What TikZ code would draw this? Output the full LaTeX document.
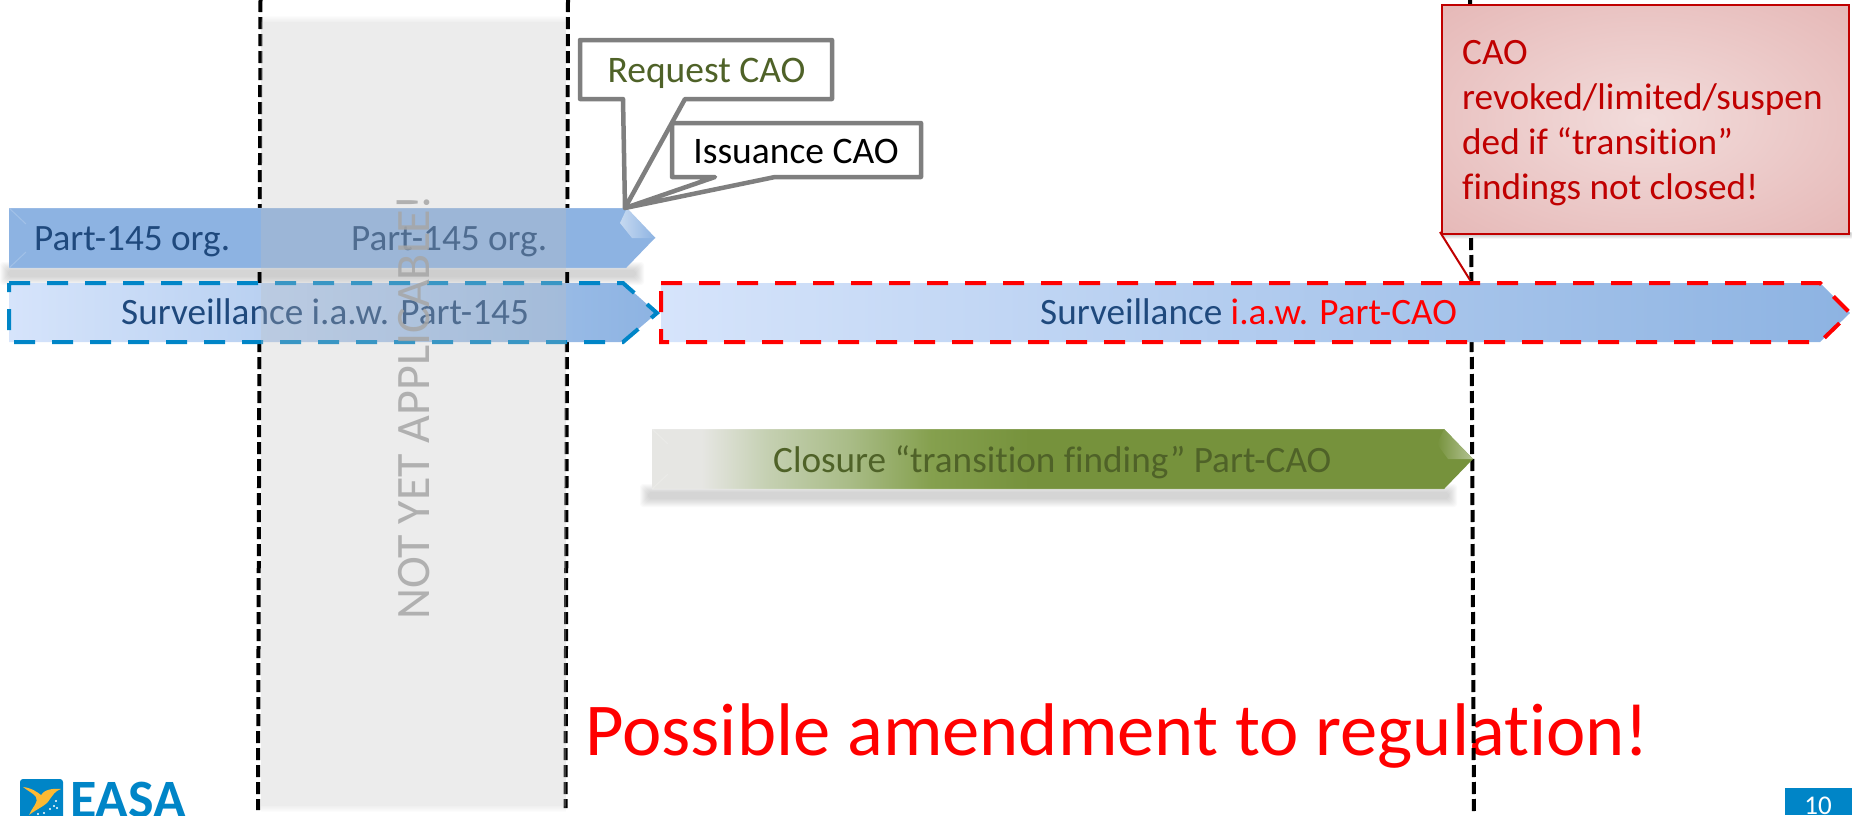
\documentclass[tikz,border=0pt]{standalone}
\usepackage{fontspec}
\setmainfont[Ligatures=NoCommon]{Carlito}
\usetikzlibrary{calc}
\definecolor{barblue}{HTML}{8DB3E2}
\definecolor{barlight}{HTML}{D6E4FB}
\definecolor{bartext}{HTML}{1F497D}
\definecolor{easablue}{HTML}{0085C7}
\definecolor{dred}{HTML}{C00000}
\definecolor{olivetxt}{HTML}{4F6228}
\definecolor{calloutgray}{HTML}{7F7F7F}
\definecolor{notyet}{HTML}{A6A6A6}
\definecolor{greenlight}{HTML}{E6E6E3}
\definecolor{greenpale}{HTML}{C5D0B2}
\definecolor{greenmid}{HTML}{A9BC87}
\definecolor{greenstep}{HTML}{85A04E}
\definecolor{greendark}{HTML}{76923C}
\definecolor{birdyellow}{HTML}{FDB933}
\definecolor{notein}{HTML}{F2DCDB}
\definecolor{noteout}{HTML}{E6B9B8}
\pgfdeclarehorizontalshading{greenbarshade}{100bp}{
  color(0bp)=(greenlight); color(28bp)=(greenlight); color(32bp)=(greenpale);
  color(37bp)=(greenmid); color(42bp)=(greenstep); color(48bp)=(greendark); color(100bp)=(greendark)}
\pgfdeclareradialshading{noteshade}{\pgfpoint{0bp}{0bp}}{
  color(0bp)=(notein); color(35bp)=(noteout); color(50bp)=(noteout)}
\tikzset{
  x=1pt,y=-1pt,
  vline/.style={black,line width=4pt,dash pattern=on 12pt off 5pt},
  bartxt/.style={font=\fontsize{37.2}{37.2}\selectfont,text=bartext,anchor=base,inner sep=0pt},
  dashbar/.style={line width=4pt,dash pattern=on 21pt off 17pt,shade,left color=barlight,right color=barblue},
  callout/.style={draw=calloutgray,line width=4.5pt,fill=white,line join=round},
  bevel/.style={line width=1pt,white,opacity=.18},
}
\begin{document}
\begin{tikzpicture}
\useasboundingbox (0,0) rectangle (1852,815);
\clip (0,0) rectangle (1852,815);
% title text
\node[anchor=base west,inner sep=0pt,text=red,font=\fontsize{74.6}{75}\selectfont] (amend) at (585,755) {Possible amendment to regulation!};
% time lines
\coordinate (l1t) at (260.5,0); \coordinate (l1b) at (258,810);
\coordinate (l2t) at (568,0); \coordinate (l2b) at (565.5,808);
\coordinate (l3t) at (1470,0); \coordinate (l3b) at (1474,815);
\draw[vline] (l1t) -- (l1b);
\draw[vline] (l2t) -- (l2b);
\draw[vline] (l3t) -- (l3b);
% soft shadows
\foreach \i in {0,...,8}{
  \fill[black,opacity=.02,rounded corners=3pt] ({8-\i},{270-\i}) rectangle ({636+\i},{277+\i});
  \fill[black,opacity=.02,rounded corners=3pt] ({648-\i},{492-\i}) rectangle ({1449+\i},{499+\i});
  \fill[black,opacity=.03,rounded corners=2pt] ({1444-.4*\i},{232}) rectangle ({1850+.4*\i},{234+.6*\i});
}
% Part-145 organisation bar
\fill[barblue] (9,208) -- (626,208) -- (655,238) -- (626,268) -- (9,268) -- cycle;
\draw[bevel] (9,208) -- (626,208) (9,268) -- (626,268) (9,208) -- (26,224) (9,268) -- (26,252);
\shade[left color=white!50!barblue,right color=barblue] (620,223) -- (627,208) -- (655.5,238) -- (632,238) -- cycle;
\node[bartxt,anchor=base west] (org1) at (34,250) {Part-145 org.};
\node[bartxt,anchor=base west] (org2) at (351,250) {Part-145 org.};
% Surveillance bars
\path[draw=easablue,dashbar] (9,283) -- (623,283) -- (657,313) -- (623,342) -- (9,342) -- cycle;
\node[bartxt,anchor=base west] (surv1) at (121,324) {Surveillance i.a.w. Part-145};
\path[draw=red,dashbar] (661,283) -- (1820,283) -- (1850,313) -- (1820,342) -- (661,342) -- cycle;
\node[bartxt,anchor=base west] (surv2) at (1040,324) {Surveillance \textcolor{red}{i.a.w. Part-CAO}};
% Closure bar
\shade[shading=greenbarshade] (652,429) -- (1444,429) -- (1473,459) -- (1444,489) -- (652,489) -- cycle;
\draw[bevel] (652,429) -- (1444,429) (652,489) -- (1444,489) (652,429) -- (668,444) (652,489) -- (668,474);
\shade[left color=greendark,right color=white!45!greendark] (1437,444) -- (1444,429) -- (1473,459) -- (1448,459) -- cycle;
\node[bartxt,anchor=base west,text=olivetxt] (closure) at (773,472) {Closure “transition finding” Part-CAO};
% not yet applicable band
\foreach \i in {1,...,6}{
  \fill[black!25,opacity=.045] (261,{22-\i}) rectangle (566,22);
  \fill[black!25,opacity=.045] (261,806) rectangle (566,{806+\i});
}
\fill[black!25,opacity=.30] (261,22) rectangle (566,806);
\node[anchor=base west,rotate=90,inner sep=0pt,text=notyet,text opacity=.85,font=\fontsize{48}{48}\selectfont] (notyet) at (429,620) {NOT YET APPLICABLE!};
% callouts
\coordinate (ctip) at (625,208);
\draw[callout] (580,40) -- (832,40) -- (832,99) -- (685,99) -- (ctip) -- (623,99) -- (580,99) -- cycle;
\node[inner sep=0pt,anchor=base,text=olivetxt,font=\fontsize{37.5}{37.5}\selectfont] (req) at (706.5,82) {Request CAO};
\draw[callout] (672,123) -- (921,123) -- (921,177) -- (775,177) -- (ctip) -- (715,177) -- (672,177) -- cycle;
\node[inner sep=0pt,anchor=base,text=black,font=\fontsize{37.5}{37.5}\selectfont] (iss) at (796,163) {Issuance CAO};
% red note
\coordinate (nt1) at (1440,232); \coordinate (nt2) at (1470,280);
\draw[dred,line width=2pt] (nt1) -- (nt2);
\path[draw=dred,line width=2.5pt,shading=noteshade] (1442,5) rectangle (1849,234);
\node[anchor=base west,align=left,inner sep=0pt,text=dred,font=\fontsize{37.2}{45}\selectfont] (note) at (1462,199)
  {CAO\\revoked/limited/suspen\\ded if “transition”\\findings not closed!};
% page number
\fill[easablue] (1785,788) rectangle (1852,815);
\node[anchor=base,inner sep=0pt,text=white,font=\fontsize{27}{27}\selectfont] (page) at (1818,814.5) {10};
% logo
\fill[easablue,rounded corners=3pt] (20,779) rectangle (63,825);
\fill[birdyellow] (23,787) .. controls (32,788) and (37,792) .. (41,795)
  .. controls (44,790) and (52,788) .. (61,789) .. controls (55,791) and (53,795) .. (50,799)
  .. controls (46,806) and (38,808) .. (29,815) .. controls (33,806) and (39,802) .. (36,797)
  .. controls (33,793) and (28,791) .. cycle;
\foreach \p in {(56,801),(54,806),(50,809),(57,808),(44,813),(38,814)}{\fill[white] \p circle (1.1pt);}
\node[anchor=base west,inner sep=0pt,text=easablue,font=\bfseries\fontsize{54}{54}\selectfont] (easa) at (70,817) {EASA};
\end{tikzpicture}
\end{document}
